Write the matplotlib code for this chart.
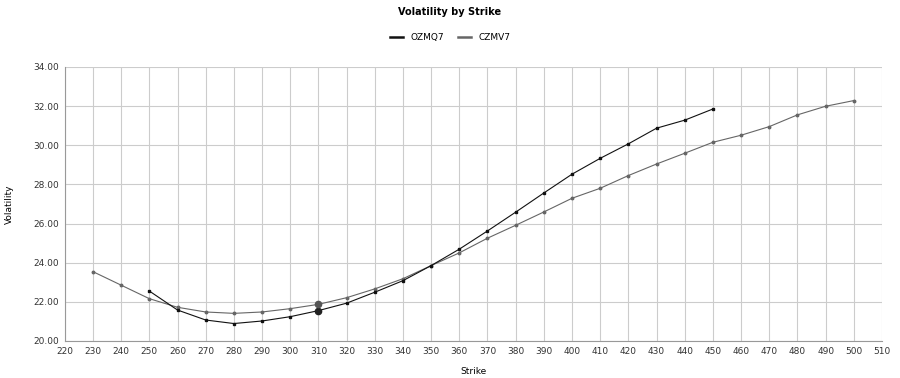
import matplotlib.pyplot as plt

# strikes and implied vols
strikes_ozmq7 = [250, 260, 270, 280, 290, 300, 310, 320, 330, 340, 350,
                 360, 370, 380, 390, 400, 410, 420, 430, 440, 450]
vol_ozmq7 = [22.55, 21.58, 21.07, 20.89, 21.02, 21.24, 21.55, 21.93, 22.49,
             23.08, 23.85, 24.69, 25.62, 26.58, 27.56, 28.52, 29.33, 30.07,
             30.87, 31.28, 31.85]

strikes_czmv7 = [230, 240, 250, 260, 270, 280, 290, 300, 310, 320, 330, 340,
                 350, 360, 370, 380, 390, 400, 410, 420, 430, 440, 450, 460,
                 470, 480, 490, 500]
vol_czmv7 = [23.54, 22.85, 22.16, 21.72, 21.48, 21.41, 21.48, 21.65, 21.87,
             22.21, 22.66, 23.18, 23.85, 24.50, 25.25, 25.91, 26.59, 27.29,
             27.80, 28.45, 29.04, 29.59, 30.15, 30.51, 30.95, 31.55, 31.99,
             32.28]

highlight_strike = 310
x_ticks = list(range(220, 520, 10))
y_ticks = [20, 22, 24, 26, 28, 30, 32, 34]

plt.rcParams['font.family'] = 'DejaVu Sans'
plt.rcParams['font.size'] = 6.5

fig = plt.figure(figsize=(9, 3.78), dpi=100)
ax = fig.add_axes([0.072, 0.098, 0.908, 0.725])

ax.plot(strikes_ozmq7, vol_ozmq7, color='#111111', lw=0.8,
        marker='s', ms=1.8, label='OZMQ7', zorder=3)
ax.plot(strikes_czmv7, vol_czmv7, color='#666666', lw=0.8,
        marker='o', ms=1.8, label='CZMV7', zorder=2)

# highlighted point at 310
i = strikes_ozmq7.index(highlight_strike)
ax.plot(strikes_ozmq7[i], vol_ozmq7[i], 'o', color='#222222', ms=4.5, zorder=4)
j = strikes_czmv7.index(highlight_strike)
ax.plot(strikes_czmv7[j], vol_czmv7[j], 'o', color='#555555', ms=4.5, zorder=4)

ax.set_xlim(220, 510)
ax.set_ylim(20, 34)
ax.set_xticks(x_ticks)
ax.set_yticks(y_ticks)
ax.set_yticklabels([f'{v:.2f}' for v in y_ticks])
ax.tick_params(length=0, colors='#333333', pad=4)
ax.grid(True, color='#cccccc', lw=0.8)
ax.set_axisbelow(True)
for side in ['top', 'right']:
    ax.spines[side].set_visible(False)
for side in ['left', 'bottom']:
    ax.spines[side].set_color('#999999')
    ax.spines[side].set_linewidth(0.8)

ax.set_xlabel('Strike', labelpad=8)
ax.set_ylabel('Volatility', labelpad=14)

fig.text(0.5, 0.968, 'Volatility by Strike', ha='center', va='center',
         fontsize=7, fontweight='bold')
leg = fig.legend(loc='center', bbox_to_anchor=(0.5, 0.9), ncol=2,
                 frameon=False, handlelength=1.5, columnspacing=1.5,
                 markerscale=0)
for line in leg.get_lines():
    line.set_linewidth(1.8)

plt.savefig('out.png', dpi=100)
